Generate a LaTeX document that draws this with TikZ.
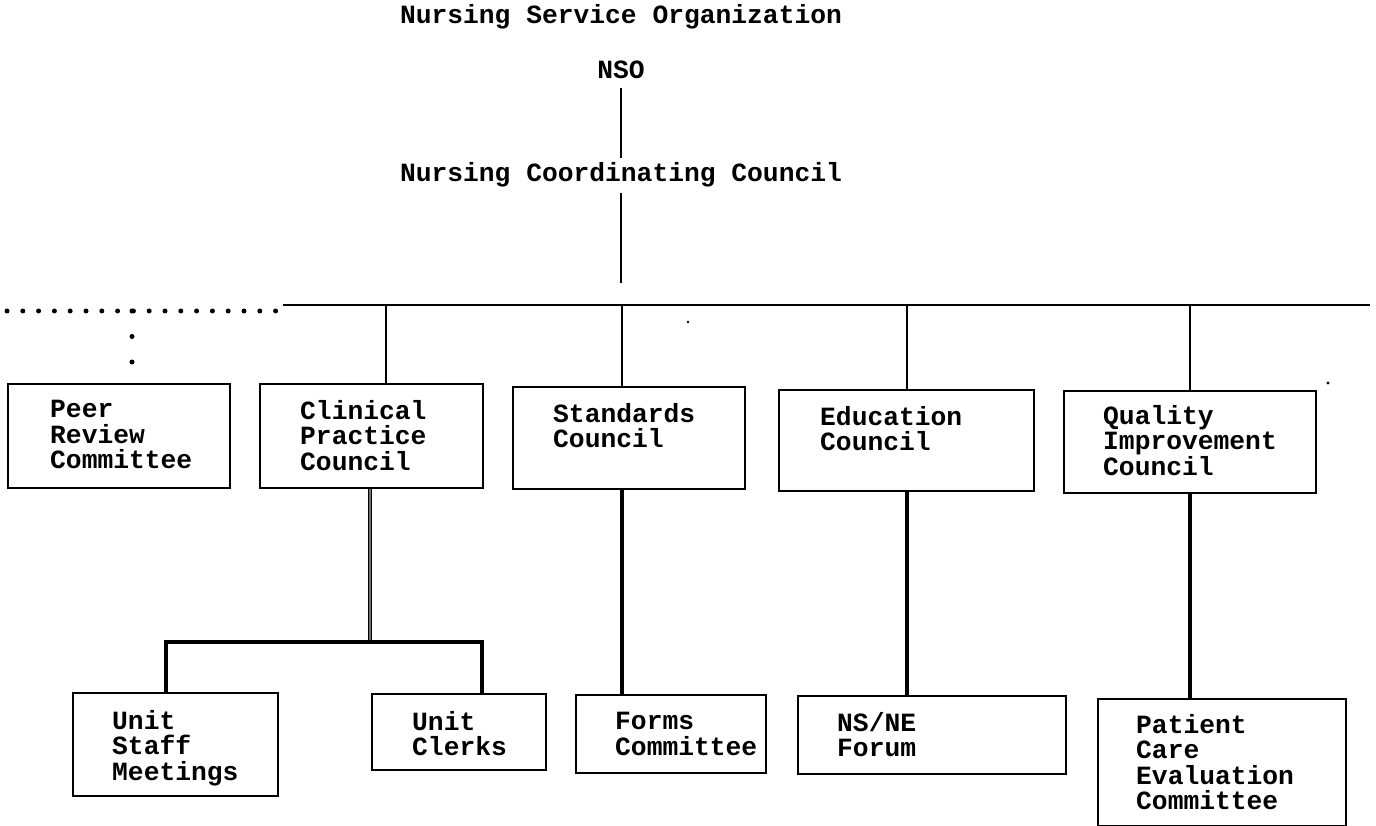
\documentclass[tikz,border=0pt]{standalone}
\usepackage{fontspec}
\newfontfamily\cour{Liberation Mono}
\tikzset{
  every node/.style={font=\cour\bfseries\fontsize{26.3}{25.5}\selectfont},
  box/.style={draw, line width=1.8, anchor=north west, inner sep=0},
  lbl/.style={anchor=north west, inner sep=0, align=left},
  head/.style={inner sep=0},
  thin/.style={line width=1.6},
  thick/.style={line width=3.8},
  hollow/.style={line width=1.6, double=black!55, double distance=1.2},
  dotrow/.style={line width=5, line cap=round, dash pattern=on 0pt off 15.8pt},
  dotcol/.style={line width=5, line cap=round, dash pattern=on 0pt off 25.5pt},
}
\newcommand{\mkbox}[5]{% name, x1, y1, x2, y2
  \node[box, minimum width={#4-#2}, minimum height={#5-#3}] (#1) at (#2,#3) {};}
\begin{document}
\begin{tikzpicture}[x=1pt,y=-1pt]
\useasboundingbox (0,0) rectangle (1376,826);
% headings
\node[head] (title) at (621,17) {Nursing Service Organization};
\node[head] (nso) at (621,70) {NSO};
\node[head] (ncc) at (621,175) {Nursing Coordinating Council};
\coordinate (nccEnd) at (621,283);
\draw[thin, shorten <=9] (nso.south) -- ([yshift=4]ncc.north);
\draw[thin] ([yshift=-5]ncc.south) -- (nccEnd);
% main bar
\coordinate (barL) at (283,305);
\coordinate (barR) at (1370,305);
\draw[thin] (barL) -- (barR);
\coordinate (dotL) at (7,311);
\coordinate (dotR) at (276,311);
\draw[dotrow] (dotL) -- (dotR);
\coordinate (dotT) at (132,311);
\coordinate (dotB) at (132,363);
\draw[dotcol] (dotT) -- (dotB);
% top row boxes
\mkbox{peer}{7}{383}{229}{487}
\mkbox{clin}{259}{383}{482}{487}
\mkbox{std}{512}{386}{744}{488}
\mkbox{edu}{778}{389}{1033}{490}
\mkbox{qic}{1063}{390}{1315}{492}
\node[lbl] (peerT) at ([shift={(43,17)}]peer.north west) {Peer\\Review\\Committee};
\node[lbl] (clinT) at ([shift={(41,17)}]clin.north west) {Clinical\\Practice\\Council};
\node[lbl] (stdT) at ([shift={(41,17)}]std.north west) {Standards\\Council};
\node[lbl] (eduT) at ([shift={(42,17)}]edu.north west) {Education\\Council};
\node[lbl] (qicT) at ([shift={(40,15)}]qic.north west) {Quality\\Improvement\\Council};
% bottom row boxes
\mkbox{usm}{72}{692}{277}{795}
\mkbox{uc}{371}{693}{545}{769}
\mkbox{forms}{575}{694}{765}{772}
\mkbox{nsne}{797}{695}{1065}{773}
\mkbox{pce}{1097}{698}{1345}{825}
\node[lbl] (usmT) at ([shift={(40,18)}]usm.north west) {Unit\\Staff\\Meetings};
\node[lbl] (ucT) at ([shift={(41,18)}]uc.north west) {Unit\\Clerks};
\node[lbl] (formsT) at ([shift={(40,18)}]forms.north west) {Forms\\Committee};
\node[lbl] (nsneT) at ([shift={(40,17)}]nsne.north west) {NS/NE\\Forum};
\node[lbl] (pceT) at ([shift={(39,16)}]pce.north west) {Patient\\Care\\Evaluation\\Committee};
% drops from main bar
\draw[thin] (386,305) -- (386,0 |- clin.north);
\draw[thin] (622,305) -- (622,0 |- std.north);
\draw[thin] (907,305) -- (907,0 |- edu.north);
\draw[thin] (1190,305) -- (1190,0 |- qic.north);
% lower connectors
\coordinate (ubar) at (370,642);
\coordinate (ubarL) at (166,642);
\coordinate (ubarR) at (482,642);
\draw[hollow] (370,0 |- clin.south) -- (ubar);
\draw[thick, line cap=rect] (ubarL) -- (ubarR);
\draw[thick] (ubarL) -- (166,0 |- usm.north);
\draw[thick] (ubarR) -- (482,0 |- uc.north);
\draw[thick] (622,0 |- std.south) -- (622,0 |- forms.north);
\draw[thick] (907,0 |- edu.south) -- (907,0 |- nsne.north);
\draw[thick] (1190,0 |- qic.south) -- (1190,0 |- pce.north);
% specks
\fill (688,322) circle (1.3);
\fill (1328,383) circle (1.6);
\end{tikzpicture}
\end{document}
